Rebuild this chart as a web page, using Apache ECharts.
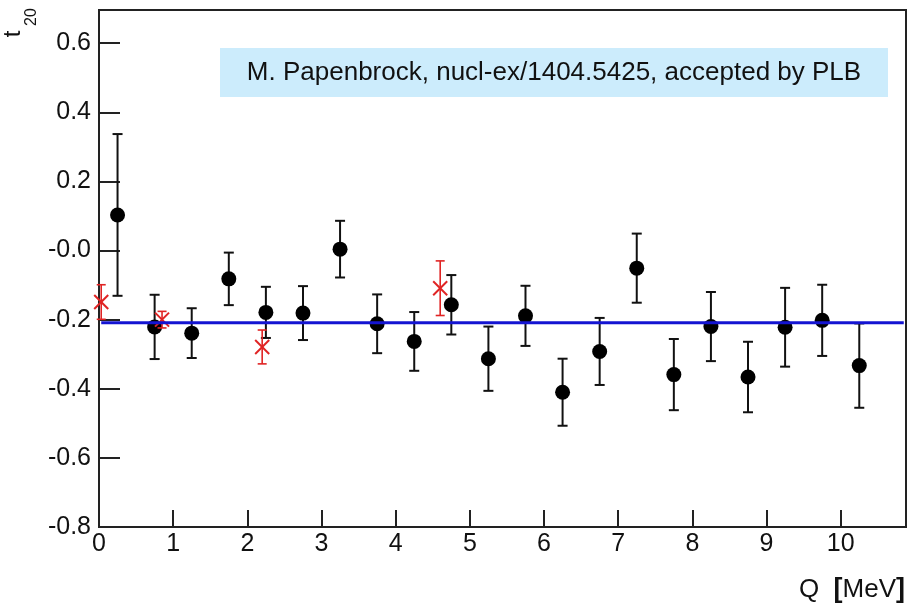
<!DOCTYPE html>
<html><head><meta charset="utf-8">
<script src="https://cdn.jsdelivr.net/npm/echarts@6/dist/echarts.min.js"></script>
<style>html,body{margin:0;padding:0;background:#fff}#c{width:908px;height:603px}</style>
</head><body><div id="c"></div>
<script>
// ---- data ----
const qBlack   = [0.25, 0.75, 1.25, 1.75, 2.25, 2.75, 3.25, 3.75, 4.25, 4.75, 5.25, 5.75, 6.25, 6.75, 7.25, 7.75, 8.25, 8.75, 9.25, 9.75, 10.25];
const t20Black = [0.103, -0.221, -0.239, -0.082, -0.179, -0.181, 0.004, -0.212, -0.263, -0.157, -0.313, -0.189, -0.410, -0.292, -0.051, -0.359, -0.220, -0.366, -0.222, -0.202, -0.333];
const errBlack = [0.234, 0.093, 0.072, 0.076, 0.074, 0.078, 0.082, 0.085, 0.085, 0.086, 0.093, 0.087, 0.097, 0.097, 0.100, 0.103, 0.100, 0.102, 0.114, 0.103, 0.122];
const qRed     = [0.03, 0.85, 2.20, 4.60];
const t20Red   = [-0.149, -0.200, -0.279, -0.109];
const errRed   = [0.050, 0.024, 0.049, 0.079];
const fitValue = -0.209;
const fitRange = [0.03, 10.85];
const xTickValues = [0, 1, 2, 3, 4, 5, 6, 7, 8, 9, 10];
const xTickLabels = ['0', '1', '2', '3', '4', '5', '6', '7', '8', '9', '10'];
const yTickValues = [-0.8, -0.6, -0.4, -0.2, 0, 0.2, 0.4, 0.6];
const yTickLabels = ['-0.8', '-0.6', '-0.4', '-0.2', '-0.0', '0.2', '0.4', '0.6'];
const annotation = 'M. Papenbrock, nucl-ex/1404.5425, accepted by PLB';
const xTitleMain = 'Q';
const xTitleUnit = 'MeV';
const yTitleMain = 't';
const yTitleSub = '20';

const FONT = '"Liberation Sans", Arial, Helvetica, sans-serif';
const AX = '#222';

function labelFor(values, labels) {
  return function (v) {
    const i = values.findIndex(t => Math.abs(t - v) < 1e-6);
    return i >= 0 ? labels[i] : '';
  };
}

function errRender(color, capW, lw, cross) {
  return function (params, api) {
    const x = api.value(0), y = api.value(1), e = api.value(2);
    const top = api.coord([x, y + e]);
    const bot = api.coord([x, y - e]);
    const c = api.coord([x, y]);
    const h = capW / 2;
    const st = { stroke: color, lineWidth: lw };
    const ch = [
      { type: 'line', shape: { x1: top[0], y1: top[1], x2: bot[0], y2: bot[1] }, style: st },
      { type: 'line', shape: { x1: top[0] - h, y1: top[1], x2: top[0] + h, y2: top[1] }, style: st },
      { type: 'line', shape: { x1: bot[0] - h, y1: bot[1], x2: bot[0] + h, y2: bot[1] }, style: st }
    ];
    if (cross) {
      const a = 7;
      ch.push({ type: 'line', shape: { x1: c[0] - a, y1: c[1] - a, x2: c[0] + a, y2: c[1] + a }, style: { stroke: color, lineWidth: 2 } });
      ch.push({ type: 'line', shape: { x1: c[0] - a, y1: c[1] + a, x2: c[0] + a, y2: c[1] - a }, style: { stroke: color, lineWidth: 2 } });
    }
    return { type: 'group', children: ch };
  };
}

const chart = echarts.init(document.getElementById('c'), null, { renderer: 'canvas' });
chart.setOption({
  animation: false,
  backgroundColor: '#fff',
  grid: { left: 99, right: 2, top: 10, bottom: 76, show: true, borderColor: AX, borderWidth: 2, containLabel: false },
  xAxis: {
    type: 'value', min: 0, max: 10.88,
    axisLine: { show: true, onZero: false, lineStyle: { color: AX, width: 2 } },
    axisTick: { show: true, inside: true, length: 17, lineStyle: { color: AX, width: 2 }, customValues: xTickValues },
    axisLabel: { show: true, margin: 5, color: '#111', fontSize: 25, fontFamily: FONT, customValues: xTickValues, formatter: labelFor(xTickValues, xTickLabels) },
    splitLine: { show: false }
  },
  yAxis: {
    type: 'value', min: -0.8, max: 0.696,
    axisLine: { show: true, onZero: false, lineStyle: { color: AX, width: 2 } },
    axisTick: { show: true, inside: true, length: 21, lineStyle: { color: AX, width: 2 }, customValues: yTickValues },
    axisLabel: { show: true, margin: 8, color: '#111', fontSize: 25, fontFamily: FONT, customValues: yTickValues, formatter: labelFor(yTickValues, yTickLabels) },
    splitLine: { show: false }
  },
  series: [
    {
      type: 'custom', name: 'errBlack', z: 3,
      renderItem: errRender('#111', 10, 2, false),
      data: qBlack.map((q, i) => [q, t20Black[i], errBlack[i]])
    },
    {
      type: 'scatter', name: 'black', z: 4,
      symbol: 'circle', symbolSize: 15,
      itemStyle: { color: '#000', opacity: 1 },
      data: qBlack.map((q, i) => [q, t20Black[i]])
    },
    {
      type: 'custom', name: 'red', z: 5,
      renderItem: errRender('#e02424', 9, 1.6, true),
      data: qRed.map((q, i) => [q, t20Red[i], errRed[i]])
    },
    {
      type: 'line', name: 'fit', z: 6,
      symbol: 'none',
      lineStyle: { color: '#1414d2', width: 3 },
      data: [[fitRange[0], fitValue], [fitRange[1], fitValue]]
    }
  ],
  graphic: [
    { type: 'rect', left: 220, top: 48, shape: { width: 668, height: 49 }, style: { fill: '#ccecfc' }, z: 10 },
    { type: 'text', x: 554, y: 73, style: { text: annotation, fill: '#111', font: '26px ' + FONT, align: 'center', verticalAlign: 'middle' }, z: 11 },
    { type: 'text', x: 905, y: 590, style: { text: xTitleMain + '  {b|[}' + xTitleUnit + '{b|]}', fill: '#111', font: '26px ' + FONT, align: 'right', verticalAlign: 'middle',
        rich: { b: { fontSize: 27, fontWeight: 'bold', fontFamily: FONT, fill: '#111' } } }, z: 11 },
    { type: 'text', x: 13, y: 34, rotation: Math.PI / 2, style: { text: yTitleMain, fill: '#111', font: '24px ' + FONT, align: 'center', verticalAlign: 'middle' }, z: 11 },
    { type: 'text', x: 32, y: 17, rotation: Math.PI / 2, style: { text: yTitleSub, fill: '#111', font: '16px ' + FONT, align: 'center', verticalAlign: 'middle' }, z: 11 }
  ]
});
</script>
</body></html>
